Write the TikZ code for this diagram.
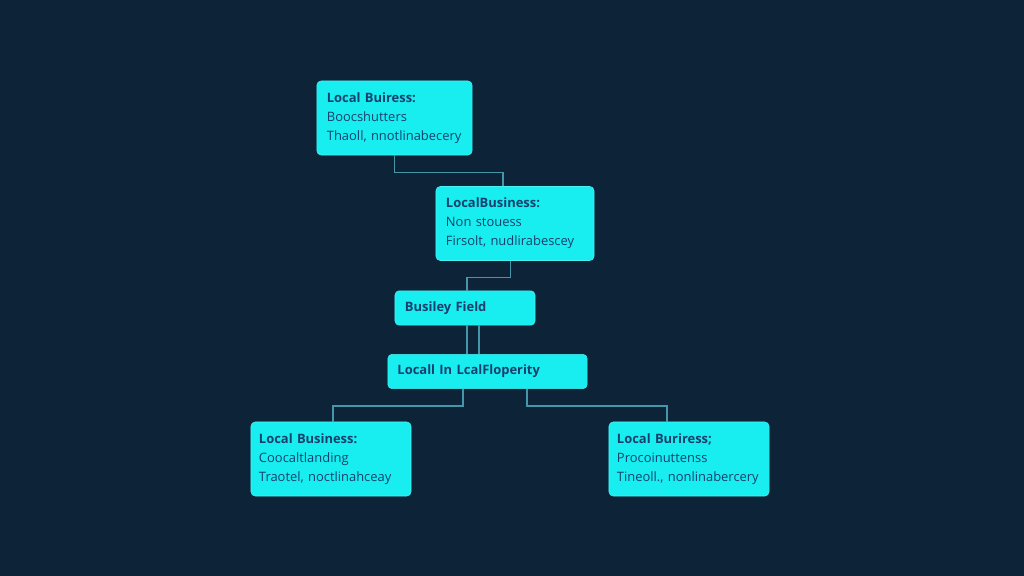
\documentclass[tikz,border=0pt]{standalone}
\usepackage{fontspec}
\setmainfont{Open Sans}
\usepackage{tikz}
\usetikzlibrary{positioning}
\usetikzlibrary{arrows.meta}

\definecolor{bgnavy}{HTML}{0D2338}
\definecolor{boxcyan}{HTML}{18EEF0}
\definecolor{inkblue}{HTML}{17406E}
\definecolor{wire}{HTML}{4596A8}

\begin{document}
\begin{tikzpicture}[x=0.025cm,y=-0.025cm,
    every node/.style={fill=boxcyan,draw=boxcyan!80!white,rounded corners=3pt,text=inkblue,align=left,inner sep=0pt},
    card/.style={minimum width=4cm,minimum height=1.85cm,text width=3.55cm,font=\fontsize{9.2}{13.6}\selectfont},
    tag/.style={minimum height=0.86cm,text width=#1,font=\fontsize{9.2}{10}\selectfont\bfseries},
    link/.style={draw=wire,line width=0.9pt}]
    \fill[bgnavy] (0,0) rectangle (1024,576);

    \node (shops)[card,minimum width=3.88cm,text width=3.38cm] at (394.5,118) {\textbf{Local Buiress:}\\ Boocshutters\\ Thaoll, nnotlinabecery};
    \node (stores)[card,minimum width=3.95cm,text width=3.45cm] at (515,223.5) {\textbf{LocalBusiness:}\\ Non stouess\\ Firsolt, nudlirabescey};
    \node (field)[tag=3.0cm,minimum width=3.5cm] at (465,308) {Busiley Field};
    \node (prop)[tag=4.5cm,minimum width=4.98cm] at (487.5,371.5) {Locall In LcalFloperity};
    \node (landing)[card,text width=3.6cm] at (331,459) {\textbf{Local Business:}\\ Coocaltlanding\\ Traotel, noctlinahceay};
    \node (proc)[card,text width=3.6cm] at (689,459) {\textbf{Local Buriress;}\\ Procoinuttenss\\ Tineoll., nonlinabercery};

    \draw[link] (shops.south) -- ++(0,17) -| ([xshift=-0.3cm]stores.north);
    \draw[link] ([xshift=-0.12cm]stores.south) -- ++(0,17) -| ([xshift=0.05cm]field.north);
    \draw[link] ([xshift=0.05cm]field.south) -- ([xshift=0.05cm]field.south |- prop.north);
    \draw[link] ([xshift=0.35cm]field.south) -- ([xshift=0.35cm]field.south |- prop.north);
    \draw[link] ([xshift=-0.61cm]prop.south) -- ++(0,17) -| ([xshift=0.05cm]landing.north);
    \draw[link] ([xshift=0.99cm]prop.south) -- ++(0,17) -| ([xshift=-0.55cm]proc.north);
\end{tikzpicture}
\end{document}
